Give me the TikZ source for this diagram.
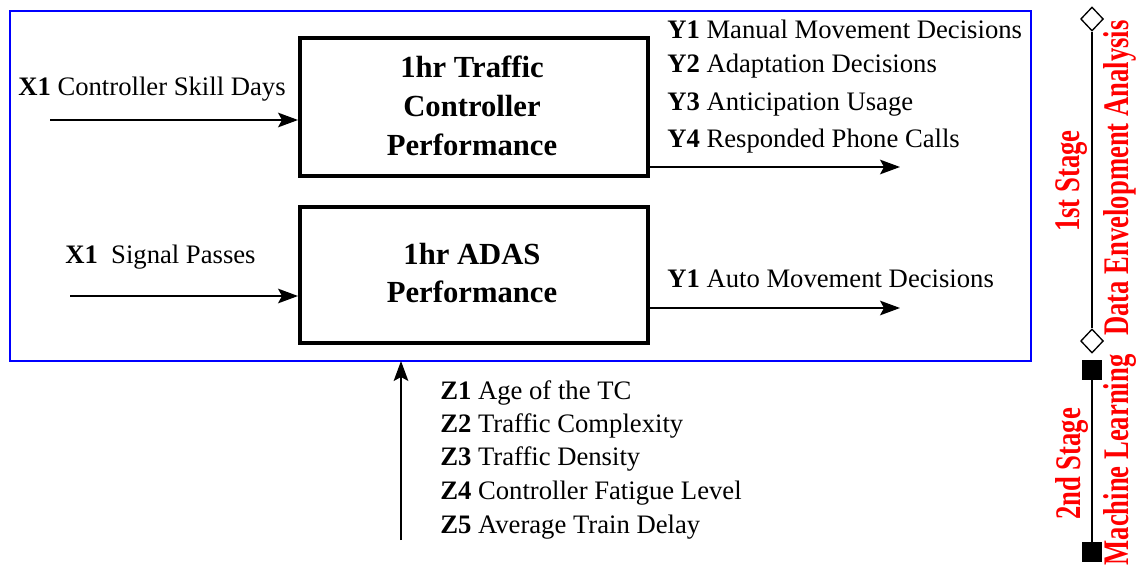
\documentclass[tikz,border=0pt]{standalone}
\usepackage{fontspec}
\setmainfont{Liberation Serif}
\usetikzlibrary{arrows.meta,shapes.geometric}
\begin{document}
\begin{tikzpicture}[x=0.75pt,y=-0.75pt,
  txt/.style={font=\fontsize{20}{24}\selectfont, anchor=base west, inner sep=0pt},
  boxtitle/.style={font=\fontsize{23}{29}\selectfont\bfseries, align=center},
  procbox/.style={draw, line width=3pt},
  arr/.style={line width=1.1pt, -{Stealth[length=15pt,width=11pt,inset=3pt]}},
  stagetxt/.style={font=\fontsize{27}{30}\selectfont\bfseries, text=red, rotate=90, inner sep=0pt},
  dia/.style={draw, fill=white, diamond, minimum width=17pt, minimum height=18pt, inner sep=0pt, line width=1pt},
  sq/.style={draw, fill=black, rectangle, minimum size=14pt, inner sep=0pt}
]
\useasboundingbox (0,0) rectangle (1138,567);
% outer blue frame
\draw[blue, line width=1.6pt] (10,11) rectangle (1031,361);
\coordinate (framebottom) at (401,361);
% process boxes
\draw[procbox] (300,38) rectangle (648,176);
\draw[procbox] (300,207) rectangle (648,343);
\node[boxtitle] (b1) at (472,106) {1hr Traffic\\Controller\\Performance};
\node[boxtitle] (b2) at (472,273) {1hr ADAS\\Performance};
\coordinate (b1in) at (298,120);
\coordinate (b1out) at (650,167);
\coordinate (b2in) at (298,296);
\coordinate (b2out) at (650,308);
% inputs
\node[txt] (x1a) at (18,95) {\textbf{X1} Controller Skill Days};
\coordinate (x1as) at (50,120);
\draw[arr] (x1as) -- (b1in);
\node[txt] (x1b) at (65,263) {\textbf{X1}\ \ Signal Passes};
\coordinate (x1bs) at (70,296);
\draw[arr] (x1bs) -- (b2in);
% outputs
\node[txt] (y1) at (667,39) {\textbf{Y1} Manual Movement Decisions};
\node[txt] (y2) at (667,73) {\textbf{Y2} Adaptation Decisions};
\node[txt] (y3) at (667,110) {\textbf{Y3} Anticipation Usage};
\node[txt] (y4) at (667,147) {\textbf{Y4} Responded Phone Calls};
\coordinate (o1) at (900,167);
\draw[arr] (b1out) -- (o1);
\node[txt] (ya) at (667,287) {\textbf{Y1} Auto Movement Decisions};
\coordinate (o2) at (900,308);
\draw[arr] (b2out) -- (o2);
% environmental variables
\coordinate (zs) at (401,540);
\draw[arr] (zs) -- (framebottom);
\node[txt] (z1) at (440,399) {\textbf{Z1} Age of the TC};
\node[txt] (z2) at (440,432) {\textbf{Z2} Traffic Complexity};
\node[txt] (z3) at (440,465) {\textbf{Z3} Traffic Density};
\node[txt] (z4) at (440,499) {\textbf{Z4} Controller Fatigue Level};
\node[txt] (z5) at (440,533) {\textbf{Z5} Average Train Delay};
% stages
\node[dia] (d1) at (1092,19) {};
\node[dia] (d2) at (1092,341) {};
\draw[line width=1pt] (d1) -- (d2);
\node[sq] (s1) at (1092,370) {};
\node[sq] (s2) at (1092,552) {};
\draw[line width=1pt] (s1) -- (s2);
\node[stagetxt] (st1) at (1072,181) {\scalebox{0.74}[1]{1st Stage}};
\node[stagetxt] (st1b) at (1120,178) {\scalebox{0.74}[1]{Data Envelopment Analysis}};
\node[stagetxt] (st2) at (1072,464) {\scalebox{0.74}[1]{2nd Stage}};
\node[stagetxt] (st2b) at (1120,460) {\scalebox{0.74}[1]{Machine Learning}};
\end{tikzpicture}
\end{document}
